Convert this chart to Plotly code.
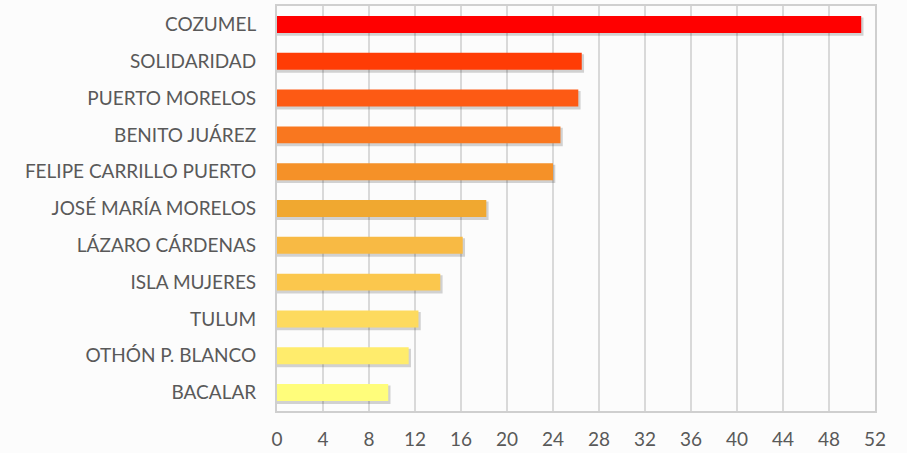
import plotly.graph_objects as go

categories = ["COZUMEL", "SOLIDARIDAD", "PUERTO MORELOS", "BENITO JUÁREZ",
              "FELIPE CARRILLO PUERTO", "JOSÉ MARÍA MORELOS", "LÁZARO CÁRDENAS",
              "ISLA MUJERES", "TULUM", "OTHÓN P. BLANCO", "BACALAR"]
values = [50.8, 26.5, 26.2, 24.65, 24.0, 18.2, 16.15, 14.2, 12.3, 11.45, 9.67]
colors = ["#FF0000", "#FF3C05", "#FD5A14", "#F9771F", "#F59128", "#F0A830",
          "#F8BA44", "#FBC74D", "#FDDA5E", "#FFEC6C", "#FFFD7B"]
tick_vals = list(range(0, 53, 4))

fig = go.Figure()
# soft shadow under bars
fig.add_trace(go.Bar(y=categories, x=[v + 0.2 for v in values], orientation="h",
                     width=0.5, offset=-0.19,
                     marker=dict(color="rgba(0,0,0,0.17)", line=dict(width=0)),
                     hoverinfo="skip", showlegend=False))
fig.add_trace(go.Bar(y=categories, x=values, orientation="h",
                     width=0.46, offset=-0.23,
                     marker=dict(color=colors, line=dict(width=0)),
                     showlegend=False))

fig.update_layout(
    width=907, height=453,
    margin=dict(l=277, r=32, t=6, b=42),
    paper_bgcolor="#FCFCFC", plot_bgcolor="#FCFCFC",
    barmode="overlay",
    font=dict(family="Lato, Open Sans, sans-serif", size=19, color="#595959"),
)
fig.update_xaxes(range=[0, 52], tickvals=tick_vals, showgrid=True,
                 gridcolor="#D9D9D9", gridwidth=2, zeroline=False,
                 showline=True, linecolor="#CFCFCF", linewidth=2, mirror=True,
                 ticks="", automargin=False, ticklabelstandoff=10,
                 tickfont=dict(size=19, color="#595959"))
fig.update_yaxes(autorange="reversed", showgrid=False, showline=True,
                 linecolor="#CFCFCF", linewidth=2, mirror=True, ticks="",
                 automargin=False, ticklabelstandoff=15,
                 tickfont=dict(size=19, color="#595959"))

fig.write_html("out.html", config={"displayModeBar": False},
               post_script="document.body.style.margin='0';document.body.style.overflow='hidden';")
